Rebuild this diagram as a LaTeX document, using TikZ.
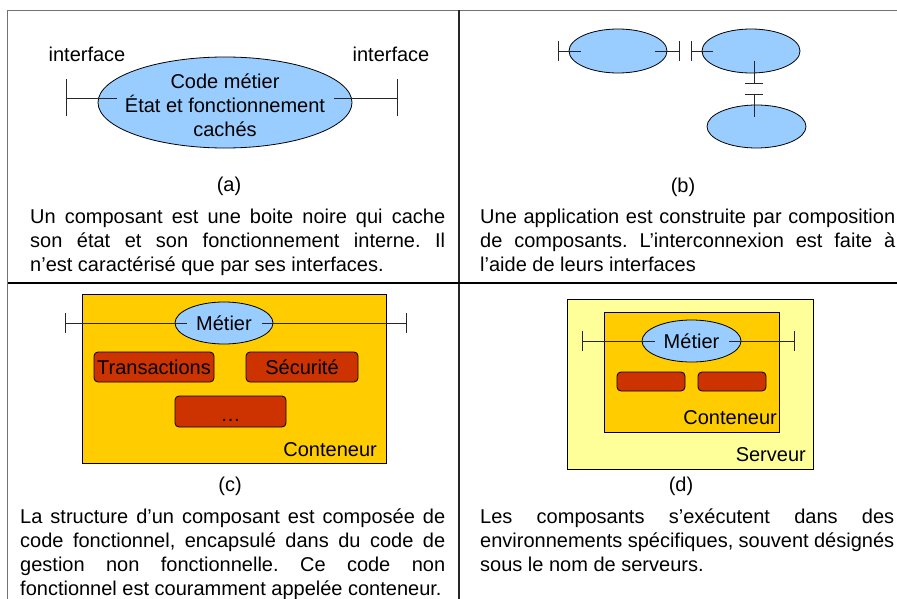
\documentclass[tikz,border=0pt]{standalone}
\usepackage{fontspec}
\setmainfont{Liberation Sans}
\usetikzlibrary{shapes.geometric,calc}
\definecolor{compblue}{HTML}{99CCFF}
\definecolor{boxorange}{HTML}{FFCC00}
\definecolor{svcred}{HTML}{CC3300}
\definecolor{srvyellow}{HTML}{FFFF99}
\hbadness=10000
\frenchspacing
\tikzset{
  txt/.style={font=\fontsize{20}{24}\selectfont, inner sep=0pt},
  caption/.style={txt, align=justify, anchor=base west,
    execute at begin node={\frenchspacing\hyphenpenalty=10000\exhyphenpenalty=10000}},
  comp/.style={ellipse, draw=black, fill=compblue, line width=0.8pt, inner sep=0pt},
  iface/.style={draw=black!85, line width=0.9pt},
  container/.style={rectangle, draw=black, fill=boxorange, line width=0.8pt, inner sep=0pt},
  server/.style={rectangle, draw=black, fill=srvyellow, line width=0.8pt, inner sep=0pt},
  service/.style={rectangle, rounded corners=4pt, draw=black, fill=svcred, line width=0.8pt, inner sep=0pt, txt},
  frame/.style={line width=1.5pt},
}
\begin{document}
\begin{tikzpicture}[x=1pt,y=-1pt]
\useasboundingbox (0,0) rectangle (897,599);
\fill[white] (0,0) rectangle (897,599);

% table rules
\coordinate (tl) at (7.5,10.5);
\coordinate (tr) at (897,10.5);
\coordinate (bl) at (7.5,599);
\coordinate (mt) at (459,10.5);
\coordinate (mb) at (459,599);
\coordinate (ml) at (7.5,283);
\coordinate (mr) at (897,283);
\draw[frame, draw=black!55] (tl) -- (tr);
\draw[line width=1.2pt, draw=black!55] (tl) -- (bl);
\draw[line width=1.3pt, draw=black!85] (mt) -- (mb);
\draw[line width=2.6pt] (ml) -- (mr);

% ---------- (a) a single component ----------
\node[comp, minimum width=254pt, minimum height=91pt] (ea) at (225,102.5) {};
\node[txt, align=center] (eatext) at (225,105) {Code métier\\État et fonctionnement\\cachés};
\coordinate (aL) at (66,98);
\coordinate (aLin) at (117,98);
\coordinate (aR) at (397,98);
\coordinate (aRin) at (334,98);
\draw[iface] (aL) -- (aLin);
\draw[iface] ($(aL)+(0,-18.5)$) -- ($(aL)+(0,18.5)$);
\draw[iface] (aRin) -- (aR);
\draw[iface] ($(aR)+(0,-18.5)$) -- ($(aR)+(0,18.5)$);
\node[txt, anchor=base] (ifl) at (87,62) {interface};
\node[txt, anchor=base] (ifr) at (391,62) {interface};
\node[txt, anchor=base] (la) at (229,191) {(a)};
\node[caption, text width=415pt] (capa) at (30,223) {Un composant est une boite noire qui cache\linebreak son état et son fonctionnement interne. Il\linebreak n’est caractérisé que par ses interfaces.};

% ---------- (b) composition of components ----------
\node[comp, minimum width=98pt, minimum height=44pt] (b1) at (618,51) {};
\node[comp, minimum width=98pt, minimum height=44pt] (b2) at (751,51) {};
\node[comp, minimum width=99pt, minimum height=43pt] (b3) at (756.5,126.5) {};
% left interface of b1
\coordinate (b1L) at (558,51);
\draw[iface] (b1L) -- ($(b1.west)+(12,0)$);
\draw[iface] ($(b1L)+(0,-10)$) -- ($(b1L)+(0,10)$);
% right interface of b1, plugged into left interface of b2
\coordinate (b1R) at (679,51);
\draw[iface] ($(b1.east)+(-12,0)$) -- (b1R);
\draw[iface] ($(b1R)+(0,-10)$) -- ($(b1R)+(0,10)$);
\coordinate (b2L) at (691,51);
\draw[iface] (b2L) -- ($(b2.west)+(11,0)$);
\draw[iface] ($(b2L)+(0,-10)$) -- ($(b2L)+(0,10)$);
% lower interface of b2, plugged into upper interface of b3
\coordinate (b2B) at (754,83);
\coordinate (b2Bin) at (754,61);
\draw[iface] (b2Bin) -- (b2B);
\draw[iface] ($(b2B)+(-9,0)$) -- ($(b2B)+(9,0)$);
\coordinate (b3T) at (754,94);
\coordinate (b3Tin) at (754,117);
\draw[iface] (b3T) -- (b3Tin);
\draw[iface] ($(b3T)+(-9,0)$) -- ($(b3T)+(9,0)$);
\node[txt, anchor=base] (lb) at (683,192) {(b)};
\node[caption, text width=415pt] (capb) at (480,223) {Une application est construite par composition\linebreak de composants. L’interconnexion est faite à\linebreak l’aide de leurs interfaces};

% ---------- (c) component inside its container ----------
\node[container, minimum width=304pt, minimum height=169pt] (contc) at (234,378.5) {};
\node[comp, txt, minimum width=98pt, minimum height=42pt] (mc) at (224,323) {Métier};
\coordinate (cL) at (65,323);
\coordinate (cR) at (406,323);
\draw[iface] (cL) -- ($(mc.center)+(-37,0)$);
\draw[iface] ($(cL)+(0,-10)$) -- ($(cL)+(0,10)$);
\draw[iface] ($(mc.center)+(38,0)$) -- (cR);
\draw[iface] ($(cR)+(0,-10)$) -- ($(cR)+(0,10)$);
\node[service, minimum width=120pt, minimum height=30pt] (trans) at (154,367) {Transactions};
\node[service, minimum width=112pt, minimum height=30pt] (secu) at (302,367) {Sécurité};
\node[service, minimum width=111pt, minimum height=31pt, text height=20pt, text depth=0pt] (etc) at (230.5,411.5) {…};
\node[txt, anchor=base east] (contclbl) at (377,456) {Conteneur};
\node[txt, anchor=base] (lc) at (230,491) {(c)};
\node[caption, text width=425pt] (capc) at (20,523) {La structure d’un composant est composée de\linebreak code fonctionnel, encapsulé dans du code de\linebreak gestion non fonctionnelle. Ce code non\linebreak fonctionnel est couramment appelée conteneur.};

% ---------- (d) container hosted by a server ----------
\node[server, minimum width=246pt, minimum height=170pt] (srv) at (690,384) {};
\node[container, minimum width=175pt, minimum height=120pt] (contd) at (691.5,372) {};
\node[comp, txt, minimum width=99pt, minimum height=42pt] (md) at (691.5,341) {Métier};
\coordinate (dL) at (582,341);
\coordinate (dR) at (794,341);
\draw[iface] (dL) -- ($(md.center)+(-36.5,0)$);
\draw[iface] ($(dL)+(0,-10)$) -- ($(dL)+(0,10)$);
\draw[iface] ($(md.center)+(37.5,0)$) -- (dR);
\draw[iface] ($(dR)+(0,-10)$) -- ($(dR)+(0,10)$);
\node[service, minimum width=68pt, minimum height=19pt] (s1) at (651,381.5) {};
\node[service, minimum width=68pt, minimum height=19pt] (s2) at (732,381.5) {};
\node[txt, anchor=base east] (contdlbl) at (777,424) {Conteneur};
\node[txt, anchor=base east] (srvlbl) at (806,461) {Serveur};
\node[txt, anchor=base] (ld) at (681,491) {(d)};
\node[caption, text width=414pt] (capd) at (480,523) {Les composants s’exécutent dans des\linebreak environnements spécifiques, souvent désignés\linebreak sous le nom de serveurs.};
\end{tikzpicture}
\end{document}
